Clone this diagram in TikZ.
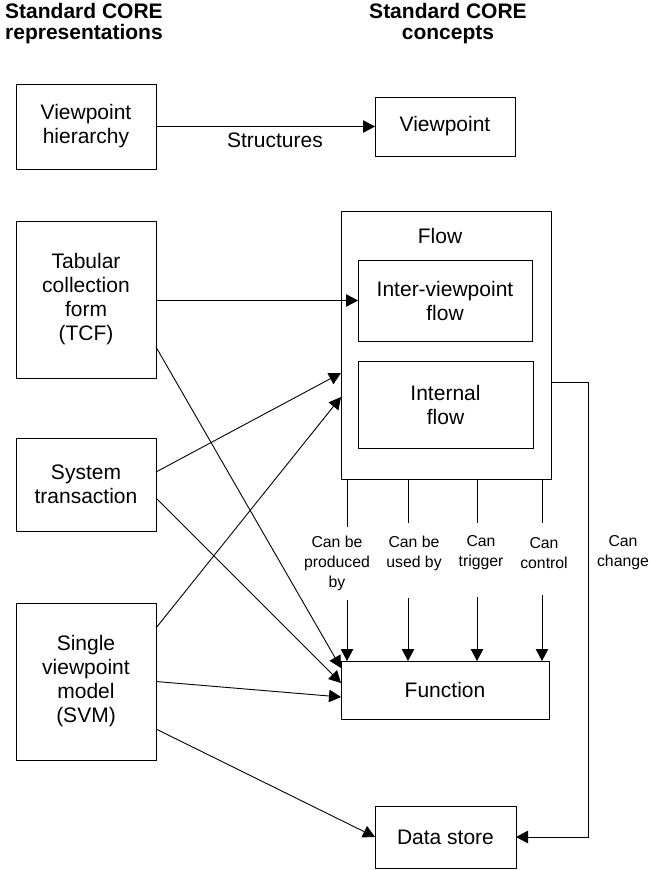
\documentclass[tikz,border=0pt]{standalone}
\usepackage{fontspec}
\setmainfont{Liberation Sans}
\usetikzlibrary{arrows.meta}
\tikzset{
	box/.style={draw,line width=0.9pt,inner sep=0pt,outer sep=0pt,align=center,font=\fontsize{21}{24}\selectfont},
	lbl/.style={align=center,inner sep=0pt,font=\fontsize{15.8}{20}\selectfont},
	hdr/.style={align=center,inner sep=0pt,font=\bfseries\fontsize{21}{21}\selectfont},
	arr/.style={-{Triangle[length=12pt,width=12.5pt]},line width=0.9pt},
	lnk/.style={line width=0.9pt},
}
\begin{document}
\begin{tikzpicture}[x=1pt,y=-1pt]
		\useasboundingbox (0,0) rectangle (649,870);
		% column headers
		\node[hdr,align=left,anchor=west] (hrep) at (5,24) {Standard CORE\\representations};
		\node[hdr] (hcon) at (448,24) {Standard CORE\\concepts};
		% representations
		\node[box,minimum width=140pt,minimum height=85pt]  (vh)  at (86,126.5) {Viewpoint\\hierarchy};
		\node[box,minimum width=140pt,minimum height=157pt] (tcf) at (86,299.5) {Tabular\\collection\\form\\(TCF)};
		\node[box,minimum width=140pt,minimum height=93pt]  (st)  at (86,484.5) {System\\transaction};
		\node[box,minimum width=140pt,minimum height=157pt] (svm) at (86,681.5) {Single\\viewpoint\\model\\(SVM)};
		% concepts
		\node[box,minimum width=140pt,minimum height=59pt]  (vp)   at (445,126.5) {Viewpoint};
		\node[box,minimum width=210pt,minimum height=268pt] (flow) at (446,345) {};
		\node[box,draw=none] (flowt) at (440,236) {Flow};
		\node[box,minimum width=174pt,minimum height=81pt]  (ivf)  at (445,300.5) {Inter-viewpoint\\flow};
		\node[box,minimum width=175pt,minimum height=87pt]  (intf) at (445.5,404.5) {Internal\\flow};
		\node[box,minimum width=208pt,minimum height=58pt]  (fn)   at (445,690) {Function};
		\node[box,minimum width=141pt,minimum height=62pt]  (ds)   at (445.5,837) {Data store};
		% links
		\draw[arr] (vh) -- node[pos=0.543,below=6pt,inner sep=0pt,font=\fontsize{21}{24}\selectfont] {Structures} (vp);
		\draw[arr] (tcf.east |- ivf.west) -- (ivf.west);
		\draw[arr] ([yshift=-47.5pt]tcf.east) -- ([yshift=22pt]fn.west);
		\draw[arr] ([yshift=12.5pt]st.east) -- ([yshift=-28pt]flow.west);
		\draw[arr] ([yshift=-13.5pt]st.east) -- ([yshift=7pt]fn.west);
		\draw[arr] ([yshift=53.5pt]svm.east) -- ([yshift=-52pt]flow.west);
		\draw[arr] (svm.east) -- ([yshift=-7pt]fn.west);
		\draw[arr] ([yshift=-47.5pt]svm.east) -- (ds.west);
		\draw[arr] ([yshift=-37pt]flow.east) -- ++(37,0) |- (ds.east);
		% flow to function
		\node[lbl] (lprod) at (337,563) {Can be\\produced\\by};
		\node[lbl] (luse)  at (414,553) {Can be\\used by};
		\node[lbl] (ltrig) at (481,553) {Can\\trigger};
		\node[lbl] (lctrl) at (544,553) {Can\\control};
		\node[lbl] (lchg)  at (623,553) {Can\\change};
		\coordinate (pa) at (347,527); \coordinate (pb) at (347,600);
		\coordinate (ua) at (408,523); \coordinate (ub) at (408,598);
		\coordinate (ta) at (477,523); \coordinate (tb) at (477,597);
		\coordinate (ca) at (542,523); \coordinate (cb) at (542,595);
		\draw[lnk] (flow.south -| pa) -- (pa);
		\draw[arr] (pb) -- (fn.north -| pb);
		\draw[lnk] (flow.south -| ua) -- (ua);
		\draw[arr] (ub) -- (fn.north -| ub);
		\draw[lnk] (flow.south -| ta) -- (ta);
		\draw[arr] (tb) -- (fn.north -| tb);
		\draw[lnk] (flow.south -| ca) -- (ca);
		\draw[arr] (cb) -- (fn.north -| cb);
	\end{tikzpicture}
\end{document}
